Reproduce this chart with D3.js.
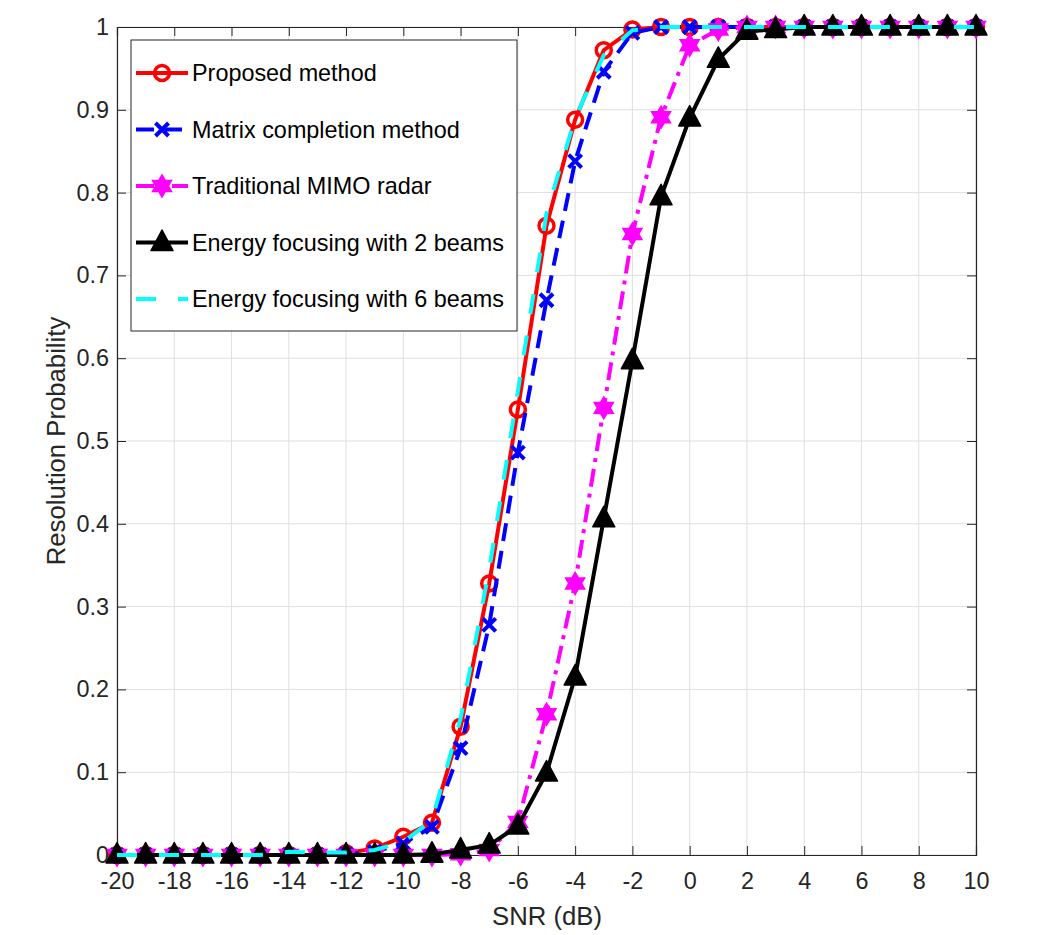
<!DOCTYPE html>
<html>
<head>
<meta charset="utf-8">
<script src="https://cdn.jsdelivr.net/npm/d3@7"></script>
<style>
  body { margin: 0; background: #fff; }
  text { font-family: Arial, "Liberation Sans", sans-serif; }
</style>
</head>
<body>
<div id="chart"></div>
<script>
// SNR grid (dB)
const snr = d3.range(-20, 11);

const proposed = [0,0,0,0,0,0,0,0,0.002,0.008,0.022,0.039,0.155,0.328,0.538,0.76,0.888,0.972,0.997,1,1,1,1,1,1,1,1,1,1,1,1];
const matrixCompletion = [0,0,0,0,0,0,0,0,0.001,0.004,0.014,0.034,0.129,0.278,0.486,0.67,0.838,0.946,0.993,1,1,1,1,1,1,1,1,1,1,1,1];
const traditional = [0,0,0,0,0,0,0,0,0,0,0,0,0.001,0.006,0.04,0.17,0.328,0.54,0.75,0.891,0.978,0.997,1,1,1,1,1,1,1,1,1];
const focus2 = [0,0,0,0,0,0,0,0,0,0,0,0.001,0.006,0.012,0.035,0.099,0.215,0.406,0.597,0.795,0.89,0.961,0.995,0.997,1,1,1,1,1,1,1];
const focus6 = [0,0,0,0,0,0,0.004,0.003,0.003,0.006,0.016,0.042,0.165,0.345,0.56,0.775,0.89,0.966,0.996,1,1,1,1,1,1,1,1,1,1,1,1];

const xTicks = d3.range(-20, 11, 2);
const yTicks = d3.range(0, 11).map(d => d / 10);

const series = [
  { name: "Proposed method", values: proposed, color: "#ff0000", dash: null, marker: "circle" },
  { name: "Matrix completion method", values: matrixCompletion, color: "#0000ff", dash: "18,10", marker: "x" },
  { name: "Traditional MIMO radar", values: traditional, color: "#ff00ff", dash: "18,7,4,7", marker: "hexagram" },
  { name: "Energy focusing with 2 beams", values: focus2, color: "#000000", dash: null, marker: "triangle" },
  { name: "Energy focusing with 6 beams", values: focus6, color: "#00ffff", dash: "20,22", marker: null }
];

const width = 1044, height = 935;
const margin = { left: 117, right: 68, top: 27, bottom: 80 };
const axisColor = "#262626";
const tickFont = "23.4px", labelFont = "25.7px";
const lw = 4;

const svg = d3.select("#chart").append("svg")
  .attr("width", width)
  .attr("height", height);

const x = d3.scaleLinear().domain([-20, 10]).range([margin.left, width - margin.right]);
const y = d3.scaleLinear().domain([0, 1]).range([height - margin.bottom, margin.top]);

// grid
svg.append("g").selectAll("line.gx")
  .data(xTicks)
  .join("line")
    .attr("x1", d => x(d)).attr("x2", d => x(d))
    .attr("y1", y(0)).attr("y2", y(1))
    .attr("stroke", "#dfdfdf").attr("stroke-width", 1);

svg.append("g").selectAll("line.gy")
  .data(yTicks)
  .join("line")
    .attr("x1", x(-20)).attr("x2", x(10))
    .attr("y1", d => y(d)).attr("y2", d => y(d))
    .attr("stroke", "#dfdfdf").attr("stroke-width", 1);

// axes (ticks inward, box)
const fmt = d => String(d);
const xAxis = svg.append("g")
  .attr("transform", `translate(0,${y(0)})`)
  .call(d3.axisBottom(x).tickValues(xTicks).tickSize(-9).tickPadding(17).tickFormat(fmt));
const xTop = svg.append("g")
  .attr("transform", `translate(0,${y(1)})`)
  .call(d3.axisTop(x).tickValues(xTicks).tickSize(-9).tickFormat(""));
const yAxis = svg.append("g")
  .attr("transform", `translate(${x(-20)},0)`)
  .call(d3.axisLeft(y).tickValues(yTicks).tickSize(-9).tickPadding(8).tickFormat(fmt));
const yRight = svg.append("g")
  .attr("transform", `translate(${x(10)},0)`)
  .call(d3.axisRight(y).tickValues(yTicks).tickSize(-9).tickFormat(""));

[xAxis, xTop, yAxis, yRight].forEach(g => {
  g.select(".domain").attr("stroke", axisColor).attr("stroke-width", 1.2);
  g.selectAll(".tick line").attr("stroke", axisColor).attr("stroke-width", 1);
  g.selectAll("text").attr("fill", axisColor).style("font-size", tickFont)
    .style("font-family", "Arial, 'Liberation Sans', sans-serif");
});

// labels
svg.append("text")
  .attr("x", 547).attr("y", 925)
  .attr("text-anchor", "middle")
  .attr("fill", axisColor)
  .style("font-size", labelFont)
  .text("SNR (dB)");

svg.append("text")
  .attr("transform", `translate(65,${y(0.5)}) rotate(-90)`)
  .attr("text-anchor", "middle")
  .attr("fill", axisColor)
  .style("font-size", labelFont)
  .text("Resolution Probability");

// markers
const hexagram = (() => {
  const r = 11, pts = [];
  for (let i = 0; i < 12; i++) {
    const a = -Math.PI / 2 + i * Math.PI / 6;
    const rr = i % 2 === 0 ? r : r * 0.58;
    pts.push([rr * Math.cos(a), rr * Math.sin(a)]);
  }
  return "M" + pts.map(p => p.join(",")).join("L") + "Z";
})();

function drawMarker(g, type, color) {
  if (type === "circle") {
    g.append("circle").attr("r", 7.5)
      .attr("fill", "none").attr("stroke", color).attr("stroke-width", 3.5);
  } else if (type === "x") {
    g.append("path").attr("d", "M-6.5,-6.5L6.5,6.5M-6.5,6.5L6.5,-6.5")
      .attr("fill", "none").attr("stroke", color).attr("stroke-width", 4);
  } else if (type === "hexagram") {
    g.append("path").attr("d", hexagram)
      .attr("fill", color).attr("stroke", color).attr("stroke-width", 1.5);
  } else if (type === "triangle") {
    g.append("path").attr("d", "M0,-12.5L11,8L-11,8Z")
      .attr("fill", color).attr("stroke", color).attr("stroke-width", 1.5)
      .attr("stroke-linejoin", "round");
  }
}

const line = d3.line()
  .x((d, i) => x(snr[i]))
  .y(d => y(d));

series.forEach(s => {
  const g = svg.append("g");
  g.append("path")
    .datum(s.values)
    .attr("d", line)
    .attr("fill", "none")
    .attr("stroke", s.color)
    .attr("stroke-width", lw)
    .attr("stroke-dasharray", s.dash);
  if (s.marker) {
    g.selectAll("g.m")
      .data(s.values)
      .join("g")
        .attr("transform", (d, i) => `translate(${x(snr[i])},${y(d)})`)
        .each(function() { drawMarker(d3.select(this), s.marker, s.color); });
  }
});

// legend
const legend = svg.append("g");
legend.append("rect")
  .attr("x", 131).attr("y", 40)
  .attr("width", 386).attr("height", 291)
  .attr("fill", "#fff").attr("stroke", axisColor).attr("stroke-width", 1);

series.forEach((s, i) => {
  const ly = 73 + i * 56.5;
  const row = legend.append("g");
  row.append("line")
    .attr("x1", 136).attr("x2", 188)
    .attr("y1", ly).attr("y2", ly)
    .attr("stroke", s.color).attr("stroke-width", lw)
    .attr("stroke-dasharray", s.dash);
  if (s.marker) {
    const mg = row.append("g").attr("transform", `translate(162,${ly})`);
    drawMarker(mg, s.marker, s.color);
  }
  row.append("text")
    .attr("x", 192).attr("y", ly + 8)
    .attr("fill", "#000")
    .style("font-size", tickFont)
    .text(s.name);
});
</script>
</body>
</html>
